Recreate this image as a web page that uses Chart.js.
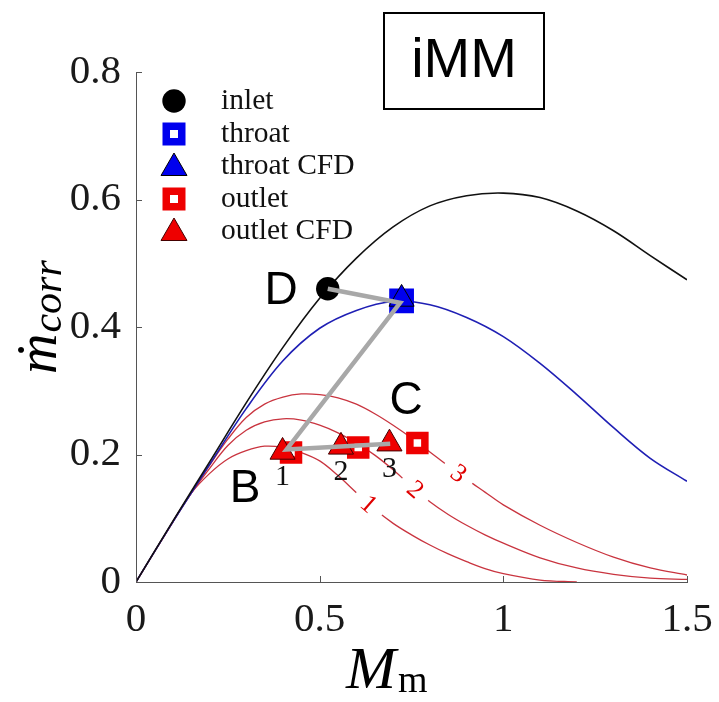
<!DOCTYPE html>
<html><head><meta charset="utf-8">
<script src="https://cdn.jsdelivr.net/npm/chart.js@4.4.0/dist/chart.umd.min.js"></script>
<style>html,body{margin:0;padding:0;background:#fff;}</style>
</head><body>
<canvas id="c" width="719" height="702"></canvas>
<script>
// ---- data ----
const xTickValues = [0, 0.5, 1, 1.5];
const yTickValues = [0, 0.2, 0.4, 0.6, 0.8];

const machGrid    = [0,0.1,0.2,0.3,0.4,0.5,0.6,0.7,0.8,0.9,1.0,1.1,1.2,1.3,1.4,1.5];
const inletCurve  = [0,0.095,0.188,0.281,0.368,0.445,0.508,0.557,0.590,0.606,0.610,0.603,0.582,0.551,0.512,0.474];
const throatCurve = [0,0.094,0.184,0.272,0.347,0.398,0.426,0.440,0.435,0.415,0.385,0.343,0.294,0.242,0.194,0.158];

const outletGrid   = [0,0.1,0.15,0.2,0.25,0.3,0.35,0.4,0.45,0.5,0.55,0.6,0.65,0.7,0.75,0.8,0.85,0.9,0.95,1.0,1.1,1.2,1.3,1.4,1.5];
const outletCurve1 = [0,0.094,0.139,0.170,0.193,0.206,0.213,0.211,0.203,0.190,0.167,0.140,0.114,0.092,0.074,0.058,0.044,0.032,0.021,0.013,0.003,0.0,null,null,null];
const outletCurve2 = [0,0.094,0.139,0.178,0.214,0.238,0.251,0.256,0.254,0.246,0.234,0.218,0.199,0.176,0.150,0.126,0.106,0.089,0.074,0.061,0.038,0.022,0.012,0.006,0.004];
const outletCurve3 = [0,0.094,0.139,0.183,0.224,0.258,0.279,0.290,0.295,0.294,0.289,0.279,0.264,0.246,0.226,0.204,0.182,0.161,0.141,0.121,0.089,0.062,0.039,0.022,0.011];

const inletPointM  = [0.522];  const inletPointV  = [0.460];
const throatPointM = [0.723];  const throatPointV = [0.441];
const throatCfdM   = [0.723];  const throatCfdV   = [0.444];
const outletPointM = [0.422, 0.605, 0.766]; const outletPointV = [0.203, 0.211, 0.218];
const outletCfdM   = [0.399, 0.558, 0.690]; const outletCfdV   = [0.204, 0.212, 0.217];
const pathM = [0.522, 0.719, 0.410, 0.692];
const pathV = [0.460, 0.438, 0.208, 0.217];

const caseLabels = ['1', '2', '3'];
const contourLabels = ['1', '2', '3'];
const contourLabelM = [0.634, 0.760, 0.878];
const stateLetters = ['D', 'B', 'C'];
const stateM = [0.395, 0.297, 0.735];
const stateV = [0.4585, 0.149, 0.286];
const legendLabels = ['inlet', 'throat', 'throat CFD', 'outlet', 'outlet CFD'];

// ---- helpers ----
const pts = (xs, ys) => xs.map((x, i) => ({x, y: ys[i]})).filter(p => p.y !== null);
const outletCurves = [outletCurve1, outletCurve2, outletCurve3];
function interp(xs, ys, x) {
  for (let i = 0; i < xs.length - 1; i++) {
    if (ys[i] === null || ys[i+1] === null) continue;
    if (x >= xs[i] && x <= xs[i+1]) {
      const t = (x - xs[i]) / (xs[i+1] - xs[i]);
      return ys[i] + t * (ys[i+1] - ys[i]);
    }
  }
  return null;
}

const RED = '#ee0000', BLUE = '#0000ee', CURVE_RED = '#c9343f', CURVE_BLUE = '#1f1fb4';

function drawSquare(ctx, x, y, color) {
  ctx.save(); ctx.lineJoin = 'miter';
  ctx.fillStyle = '#fff'; ctx.strokeStyle = color; ctx.lineWidth = 7.5;
  ctx.beginPath(); ctx.rect(x - 7.75, y - 7.75, 15.5, 15.5); ctx.fill(); ctx.stroke();
  ctx.restore();
}
function drawTri(ctx, x, y, r, color, edge) {
  ctx.save(); ctx.beginPath();
  for (let k = 0; k < 3; k++) {
    const a = k * 2 * Math.PI / 3;
    const px = x + Math.sin(a) * r, py = y - Math.cos(a) * r;
    k ? ctx.lineTo(px, py) : ctx.moveTo(px, py);
  }
  ctx.closePath(); ctx.fillStyle = color; ctx.fill();
  ctx.strokeStyle = edge; ctx.lineWidth = 1; ctx.stroke(); ctx.restore();
}

const annotations = {
  id: 'annotations',
  afterDatasetsDraw(chart) {
    const ctx = chart.ctx, xs = chart.scales.x, ys = chart.scales.y;
    contourLabelM.forEach((m, i) => {
      const arr = outletCurves[i];
      const v = interp(outletGrid, arr, m);
      const x = xs.getPixelForValue(m), y = ys.getPixelForValue(v);
      const xa = xs.getPixelForValue(m - 0.03), ya = ys.getPixelForValue(interp(outletGrid, arr, m - 0.03));
      const xb = xs.getPixelForValue(m + 0.03), yb = ys.getPixelForValue(interp(outletGrid, arr, m + 0.03));
      const ang = Math.atan2(yb - ya, xb - xa);
      ctx.save(); ctx.translate(x, y); ctx.rotate(ang);
      ctx.fillStyle = '#fff'; ctx.fillRect(-17, -7, 34, 14);
      ctx.fillStyle = '#e00000'; ctx.font = '26px "Liberation Serif"';
      ctx.textAlign = 'center'; ctx.textBaseline = 'middle';
      ctx.fillText(contourLabels[i], 0, 1);
      ctx.restore();
    });
  },
  afterDraw(chart) {
    const ctx = chart.ctx, xs = chart.scales.x, ys = chart.scales.y, a = chart.chartArea;
    ctx.save();
    ctx.strokeStyle = '#555'; ctx.lineWidth = 1;
    xTickValues.forEach(v => { const x = Math.round(xs.getPixelForValue(v)) + 0.5; ctx.beginPath(); ctx.moveTo(x, a.bottom); ctx.lineTo(x, a.bottom - 6); ctx.stroke(); });
    yTickValues.forEach(v => { const y = Math.round(ys.getPixelForValue(v)) + 0.5; ctx.beginPath(); ctx.moveTo(a.left, y); ctx.lineTo(a.left + 6, y); ctx.stroke(); });
    ctx.fillStyle = '#111'; ctx.font = '30px "Liberation Serif"'; ctx.textAlign = 'center'; ctx.textBaseline = 'middle';
    outletCfdM.forEach((m, i) => ctx.fillText(caseLabels[i], xs.getPixelForValue(m), ys.getPixelForValue(outletCfdV[i]) + 25));
    ctx.font = '46px "Liberation Sans"'; ctx.fillStyle = '#000';
    stateLetters.forEach((s, i) => ctx.fillText(s, xs.getPixelForValue(stateM[i]), ys.getPixelForValue(stateV[i]) + 2));
    const rows = [101, 134, 166, 199, 231], mx = 174, tx = 221;
    ctx.beginPath(); ctx.arc(mx, rows[0], 11.7, 0, 2 * Math.PI); ctx.fillStyle = '#000'; ctx.fill();
    drawSquare(ctx, mx, rows[1], BLUE);
    drawTri(ctx, mx, rows[2] + 2, 15, BLUE, '#000');
    drawSquare(ctx, mx, rows[3], RED);
    drawTri(ctx, mx, rows[4] + 2, 15, RED, '#400');
    ctx.font = '29.5px "Liberation Serif"'; ctx.fillStyle = '#111'; ctx.textAlign = 'left'; ctx.textBaseline = 'middle';
    legendLabels.forEach((t, i) => ctx.fillText(t, tx, rows[i]));
    ctx.strokeStyle = '#000'; ctx.lineWidth = 2; ctx.strokeRect(384, 13, 160, 96);
    ctx.font = '56px "Liberation Sans"'; ctx.textAlign = 'center'; ctx.fillStyle = '#000';
    ctx.fillText('iMM', 464, 62);
    ctx.textAlign = 'left'; ctx.textBaseline = 'alphabetic';
    ctx.font = 'italic 60px "Liberation Serif"'; ctx.fillText('M', 346, 688);
    const wM = ctx.measureText('M').width;
    ctx.font = '38px "Liberation Serif"'; ctx.fillText('m', 346 + wM + 2, 692);
    ctx.save(); ctx.translate(56, 374); ctx.rotate(-Math.PI / 2);
    ctx.font = 'italic 56px "Liberation Serif"'; ctx.fillText('\u1E41', 0, 0);
    const wm = ctx.measureText('\u1E41').width;
    ctx.font = 'italic 42px "Liberation Serif"'; ctx.fillText('corr', wm + 1, 5);
    ctx.restore();
    ctx.restore();
  }
};

const lineDs = (data, color, width) => ({ data, borderColor: color, borderWidth: width, pointRadius: 0, showLine: true, fill: false, tension: 0.35, order: 5 });
const markerDs = (data, style, r, bg, border, bw, order) => ({ data, showLine: false, pointStyle: style, pointRadius: r, pointBackgroundColor: bg, pointBorderColor: border, pointBorderWidth: bw, order });

new Chart(document.getElementById('c'), {
  type: 'line',
  data: {
    datasets: [
      { data: pts(pathM, pathV), borderColor: '#a8a8a8', borderWidth: 4.5, pointRadius: 0, showLine: true, tension: 0, order: 0 },
      markerDs(pts(outletCfdM, outletCfdV), 'triangle', 14.5, RED, '#400', 1, 1),
      markerDs(pts(throatCfdM, throatCfdV), 'triangle', 14.5, BLUE, '#000', 1, 1),
      markerDs(pts(outletPointM, outletPointV), 'rect', 10.6, '#fff', RED, 7.5, 2),
      markerDs(pts(throatPointM, throatPointV), 'rect', 11.5, '#fff', BLUE, 8.5, 2),
      markerDs(pts(inletPointM, inletPointV), 'circle', 11.7, '#000', '#000', 0, 3),
      lineDs(pts(machGrid, inletCurve), '#111', 1.6),
      lineDs(pts(machGrid, throatCurve), CURVE_BLUE, 1.6),
      lineDs(pts(outletGrid, outletCurve1), CURVE_RED, 1.3),
      lineDs(pts(outletGrid, outletCurve2), CURVE_RED, 1.3),
      lineDs(pts(outletGrid, outletCurve3), CURVE_RED, 1.3)
    ]
  },
  options: {
    responsive: false, animation: false, devicePixelRatio: 1,
    layout: { padding: { left: 0, top: 72, right: 32, bottom: 0 } },
    plugins: { legend: { display: false }, tooltip: { enabled: false } },
    scales: {
      x: {
        type: 'linear', min: 0, max: 1.5,
        afterBuildTicks: s => { s.ticks = xTickValues.map(v => ({ value: v })); },
        ticks: { font: { family: 'Liberation Serif', size: 41 }, color: '#1a1a1a', padding: 14, maxRotation: 0, callback: v => String(+v) },
        grid: { display: false, drawTicks: false },
        border: { display: true, color: '#555', width: 1 },
        afterFit: s => { s.height = 120; s.paddingLeft = 0; s.paddingRight = 0; }
      },
      y: {
        type: 'linear', min: 0, max: 0.8,
        afterBuildTicks: s => { s.ticks = yTickValues.map(v => ({ value: v })); },
        ticks: { font: { family: 'Liberation Serif', size: 41 }, color: '#1a1a1a', padding: 15, callback: v => String(+v) },
        grid: { display: false, drawTicks: false },
        border: { display: true, color: '#555', width: 1 },
        afterFit: s => { s.width = 136; s.paddingTop = 0; s.paddingBottom = 0; }
      }
    }
  },
  plugins: [annotations]
});
</script>
</body></html>
